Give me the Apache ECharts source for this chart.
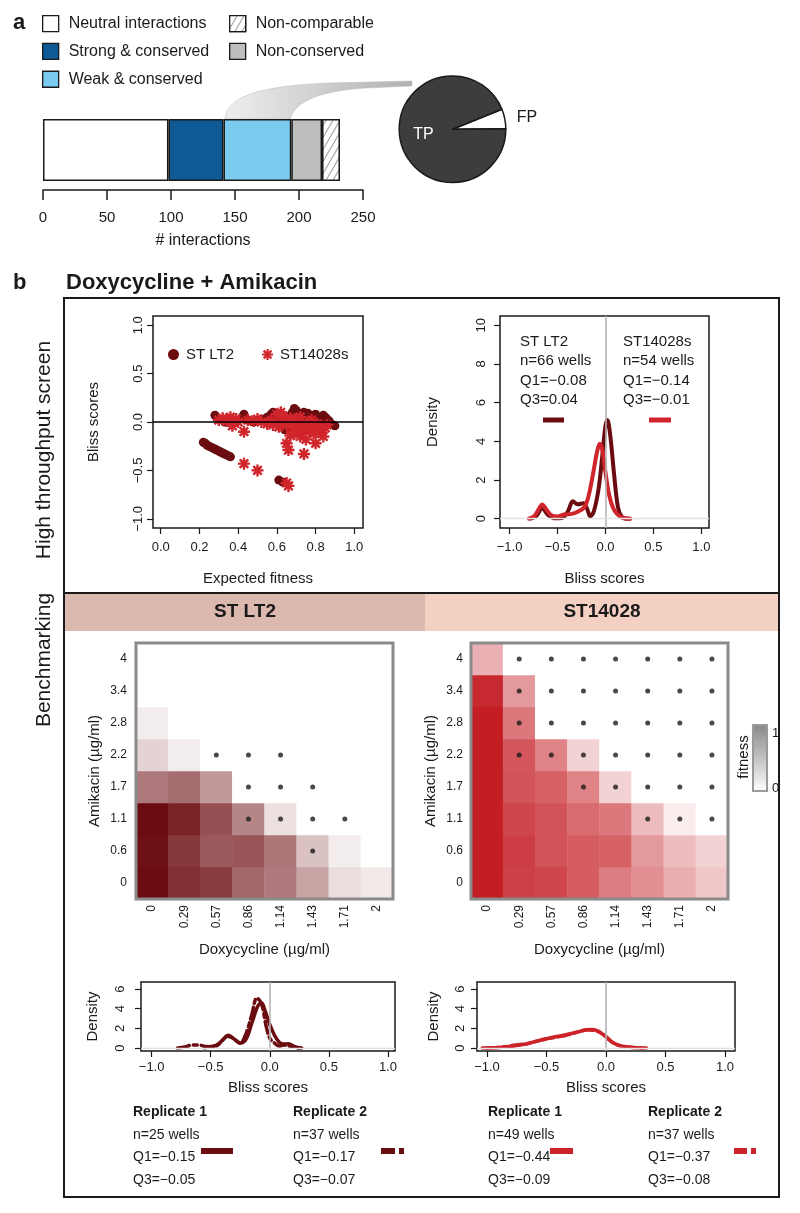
<!DOCTYPE html>
<html><head><meta charset="utf-8">
<script src="https://cdn.jsdelivr.net/npm/echarts@6.0.0/dist/echarts.min.js"></script>
<style>html,body{margin:0;padding:0;background:#fff}#c{width:800px;height:1213px}</style>
</head><body><div id="c"></div><script>
// ---------------- DATA ----------------
const barCategories = ['Neutral interactions','Strong & conserved','Weak & conserved','Non-conserved','Non-comparable'];
const barValues = [98, 43, 53, 24, 14];
const barTicks = [0, 50, 100, 150, 200, 250];
const pieLabels = ['FP', 'TP'];
const pieValues = [6, 94];

const scatterLT2 = [[0.22,-0.21],[0.23,-0.22],[0.24,-0.24],[0.25,-0.25],[0.26,-0.26],[0.27,-0.27],[0.28,-0.28],[0.29,-0.29],[0.30,-0.30],[0.31,-0.31],[0.32,-0.32],[0.33,-0.33],[0.34,-0.34],[0.35,-0.35],[0.36,-0.36],
 [0.61,-0.60],[0.63,-0.62],
 [0.28,0.07],[0.33,0.00],[0.38,0.02],[0.42,0.05],[0.43,0.08],[0.45,0.02],[0.48,0.00],[0.52,0.03],[0.55,0.05],[0.57,0.08],[0.58,0.10],[0.60,0.06],[0.61,0.02],[0.62,-0.02],[0.63,-0.04],[0.64,0.03],[0.65,-0.06],[0.66,0.04],[0.67,0.07],[0.68,0.10],[0.69,0.14],[0.70,0.12],[0.71,0.05],[0.72,0.02],[0.73,0.09],[0.74,0.10],[0.75,0.06],[0.76,0.03],[0.77,0.00],[0.78,0.07],[0.79,0.04],[0.80,0.02],[0.81,-0.01],[0.82,0.02],[0.83,0.00],[0.84,0.07],[0.85,0.05],[0.86,0.03],[0.87,0.01],[0.88,-0.02],[0.89,-0.03],[0.90,-0.04],[0.70,-0.03],[0.74,-0.05],[0.66,-0.02],[0.59,-0.01],[0.80,0.08],[0.76,0.09],[0.64,-0.08]];
const scatter14028 = [[0.30,0.02],[0.32,0.04],[0.34,0.01],[0.36,0.05],[0.37,-0.04],[0.40,0.00],[0.43,-0.10],[0.43,-0.43],[0.45,0.02],[0.50,0.03],[0.50,-0.50],[0.52,0.00],[0.55,-0.02],[0.57,0.02],[0.60,0.08],[0.62,0.10],[0.63,0.06],[0.64,0.01],[0.65,-0.03],[0.65,-0.22],[0.66,-0.29],[0.65,-0.63],[0.66,-0.66],[0.67,0.04],[0.68,-0.06],[0.69,-0.12],[0.70,0.02],[0.71,-0.09],[0.72,-0.15],[0.72,0.05],[0.73,-0.02],[0.74,-0.06],[0.74,-0.33],[0.75,-0.10],[0.75,-0.18],[0.76,-0.04],[0.77,0.00],[0.78,-0.08],[0.79,-0.12],[0.80,-0.22],[0.80,-0.05],[0.81,-0.02],[0.82,-0.10],[0.83,-0.08],[0.84,-0.15],[0.85,-0.06],[0.86,-0.03],[0.67,-0.14],[0.70,-0.04],[0.58,-0.03],[0.48,0.01],[0.39,0.03],[0.61,-0.05],[0.78,0.02]];
const scatterXTicks = [0, 0.2, 0.4, 0.6, 0.8, 1.0];
const scatterYTicks = [-1, -0.5, 0, 0.5, 1];

const densityLT2 = [[-0.78,0],[-0.72,0.15],[-0.66,0.55],[-0.6,0.2],[-0.52,0.02],[-0.45,0.05],[-0.39,0.4],[-0.34,0.9],[-0.29,0.75],[-0.23,0.8],[-0.19,0.5],[-0.16,0.12],[-0.12,0.4],[-0.07,1.6],[-0.03,3.4],[0.0,4.8],[0.02,5.1],[0.05,4.3],[0.09,2.3],[0.13,0.6],[0.17,0.1],[0.22,0.0],[0.25,0]];
const density14028 = [[-0.8,0],[-0.74,0.15],[-0.69,0.55],[-0.66,0.74],[-0.62,0.5],[-0.57,0.2],[-0.5,0.12],[-0.43,0.22],[-0.35,0.25],[-0.28,0.38],[-0.22,0.6],[-0.18,1.1],[-0.13,2.3],[-0.09,3.4],[-0.06,3.88],[-0.03,3.5],[0.0,2.4],[0.04,1.2],[0.08,0.55],[0.12,0.25],[0.18,0.05],[0.26,0]];
const densityXTicks = [-1, -0.5, 0, 0.5, 1];
const densityYTicks = [0, 2, 4, 6, 8, 10];
const topStatsLT2 = ['ST LT2', 'n=66 wells', 'Q1=\u22120.08', 'Q3=0.04'];
const topStats14028 = ['ST14028s', 'n=54 wells', 'Q1=\u22120.14', 'Q3=\u22120.01'];

const doxyLabels = ['0','0.29','0.57','0.86','1.14','1.43','1.71','2'];
const amiLabels = ['0','0.6','1.1','1.7','2.2','2.8','3.4','4'];
// rows: amikacin 0 -> 4 ; columns: doxycycline 0 -> 2
const fitnessLT2 = [
 [1.00,0.85,0.80,0.62,0.55,0.38,0.14,0.09],
 [0.98,0.82,0.68,0.70,0.56,0.25,0.08,0.00],
 [1.00,0.90,0.72,0.50,0.13,0.00,0.00,0.00],
 [0.55,0.60,0.42,0.00,0.00,0.00,0.00,0.00],
 [0.18,0.08,0.00,0.00,0.00,0.00,0.00,0.00],
 [0.08,0.00,0.00,0.00,0.00,0.00,0.00,0.00],
 [0.00,0.00,0.00,0.00,0.00,0.00,0.00,0.00],
 [0.00,0.00,0.00,0.00,0.00,0.00,0.00,0.00]];
const fitness14028 = [
 [1.00,0.85,0.82,0.72,0.58,0.50,0.36,0.25],
 [1.00,0.86,0.76,0.72,0.70,0.45,0.30,0.20],
 [1.00,0.82,0.76,0.66,0.60,0.30,0.08,0.00],
 [1.00,0.76,0.70,0.55,0.20,0.00,0.00,0.00],
 [1.00,0.75,0.55,0.20,0.00,0.00,0.00,0.00],
 [1.00,0.60,0.00,0.00,0.00,0.00,0.00,0.00],
 [0.95,0.45,0.00,0.00,0.00,0.00,0.00,0.00],
 [0.35,0.00,0.00,0.00,0.00,0.00,0.00,0.00]];
// [doxy index, amikacin index]
const dotsLT2 = [[2,4],[3,4],[4,4],[3,3],[4,3],[5,3],[3,2],[4,2],[5,2],[6,2],[5,1]];
const dots14028 = [[1,7],[2,7],[3,7],[4,7],[5,7],[6,7],[7,7],[1,6],[2,6],[3,6],[4,6],[5,6],[6,6],[7,6],[1,5],[2,5],[3,5],[4,5],[5,5],[6,5],[7,5],[1,4],[2,4],[3,4],[4,4],[5,4],[6,4],[7,4],[3,3],[4,3],[5,3],[6,3],[7,3],[5,2],[6,2],[7,2]];

const rep1LT2 = [[-0.55,0.02],[-0.5,0.15],[-0.45,0.3],[-0.4,0.8],[-0.35,1.3],[-0.3,0.9],[-0.25,0.5],[-0.2,0.9],[-0.15,2.6],[-0.1,4.3],[-0.07,4.6],[-0.04,3.8],[0.0,2.4],[0.04,1.3],[0.08,0.6],[0.12,0.4],[0.16,0.45],[0.2,0.2],[0.25,0.0]];
const rep2LT2 = [[-0.78,0],[-0.72,0.1],[-0.66,0.3],[-0.6,0.3],[-0.54,0.15],[-0.48,0.1],[-0.42,0.5],[-0.36,1.2],[-0.31,1.0],[-0.25,0.5],[-0.2,1.5],[-0.15,3.5],[-0.11,5.1],[-0.07,4.5],[-0.03,2.2],[0.0,1.0],[0.04,0.5],[0.08,0.2],[0.12,0.3],[0.17,0.2],[0.22,0.05],[0.27,0]];
const rep1S14 = [[-1.04,0],[-0.9,0.05],[-0.8,0.15],[-0.7,0.35],[-0.6,0.65],[-0.5,0.95],[-0.4,1.2],[-0.3,1.45],[-0.2,1.75],[-0.13,1.88],[-0.07,1.75],[0.0,1.15],[0.06,0.55],[0.12,0.25],[0.2,0.08],[0.34,0]];
const rep2S14 = [[-1.0,0],[-0.88,0.08],[-0.76,0.3],[-0.66,0.45],[-0.55,0.8],[-0.45,1.05],[-0.35,1.25],[-0.25,1.6],[-0.16,1.85],[-0.1,1.8],[-0.03,1.45],[0.03,0.8],[0.1,0.3],[0.2,0.08],[0.3,0]];
const benchXTicks = [-1, -0.5, 0, 0.5, 1];
const benchYTicks = [0, 2, 4, 6];
const repStatsLT2 = [['Replicate 1','n=25 wells','Q1=\u22120.15','Q3=\u22120.05'],['Replicate 2','n=37 wells','Q1=\u22120.17','Q3=\u22120.07']];
const repStats14028 = [['Replicate 1','n=49 wells','Q1=\u22120.44','Q3=\u22120.09'],['Replicate 2','n=37 wells','Q1=\u22120.37','Q3=\u22120.08']];

// ---------------- STYLE ----------------
const FONT = '"Liberation Sans", Arial, Helvetica, sans-serif';
const INK = '#1a1a1a';
const C_LT2 = '#6b0c10';
const C_S14 = '#d0252b';
const barColors = ['#ffffff', '#0f5a94', '#7bcaf0', '#bcbec0', '#ffffff'];
const hatch = {symbol:'rect', symbolSize:1, dashArrayX:[1,0], dashArrayY:[1,5], rotation:-Math.PI/3, color:'#9a9a9a', backgroundColor:'#ffffff'};
const ASTERISK = 'path://M0,4L10,4L10,6L0,6Z M4,0L6,0L6,10L4,10Z M0.75,2.17L2.17,0.75L9.25,7.83L7.83,9.25Z M2.17,9.25L0.75,7.83L7.83,0.75L9.25,2.17Z';

function fmt1(v){ return (v < 0 ? '\u2212' : '') + Math.abs(v).toFixed(1); }
function fmt0(v){ return (v < 0 ? '\u2212' : '') + Math.abs(v); }

function rX(gi, min, max, ticks, f, o) {
  return { type:'value', gridIndex:gi, min, max, position:'bottom',
    axisLine:{show:false, onZero:false},
    axisTick:{show:true, inside:false, length:6, customValues:ticks, lineStyle:{color:INK, width:1.2}},
    axisLabel:{customValues:ticks, formatter:f, fontSize:o.fs||13, color:INK, fontFamily:FONT, margin:o.margin},
    splitLine:{show:false},
    name:o.name, nameLocation:'middle', nameGap:o.nameGap,
    nameTextStyle:{fontSize:15, color:INK, fontFamily:FONT} };
}
function rY(gi, min, max, ticks, f, o) {
  return { type:'value', gridIndex:gi, min, max, position:'left',
    axisLine:{show:false, onZero:false},
    axisTick:{show:true, inside:false, length:6, customValues:ticks, lineStyle:{color:INK, width:1.2}},
    axisLabel:{customValues:ticks, formatter:f, rotate:90, fontSize:o.fs||13, color:INK, fontFamily:FONT, margin:o.margin},
    splitLine:{show:false},
    name:o.name, nameLocation:'middle', nameGap:o.nameGap,
    nameTextStyle:{fontSize:15, color:INK, fontFamily:FONT} };
}
function catX(gi, o) {
  return { type:'category', gridIndex:gi, data:doxyLabels, axisLine:{show:false, onZero:false}, axisTick:{show:false},
    axisLabel:{interval:0, rotate:90, fontSize:12, margin:6, color:INK, fontFamily:FONT}, splitLine:{show:false},
    name:'Doxycycline (\u00b5g/ml)', nameLocation:'middle', nameGap:o.nameGap, nameTextStyle:{fontSize:15, color:INK, fontFamily:FONT} };
}
function catY(gi, o) {
  return { type:'category', gridIndex:gi, data:amiLabels, axisLine:{show:false, onZero:false}, axisTick:{show:false},
    axisLabel:{interval:0, fontSize:12, margin:o.margin, color:INK, fontFamily:FONT}, splitLine:{show:false},
    name:'Amikacin (\u00b5g/ml)', nameLocation:'middle', nameGap:o.nameGap, nameTextStyle:{fontSize:15, color:INK, fontFamily:FONT} };
}
function rGrid(left, top, width, height, border, bw) {
  return {left, top, width, height, show:true, z:5, backgroundColor:'transparent', borderColor:border, borderWidth:bw, outerBoundsMode:'none', containLabel:false};
}

// ---------------- GRIDS / AXES ----------------
const grids = [
  {left:43, top:119, width:320, height:62, outerBoundsMode:'none', containLabel:false},
  rGrid(153, 316, 210, 212, INK, 1.5),
  rGrid(500, 316, 209, 212, INK, 1.5),
  rGrid(136, 643, 257, 256, '#8a8a8a', 3),
  rGrid(471, 643, 257, 256, '#8a8a8a', 3),
  rGrid(141, 982, 254, 69, INK, 1.5),
  rGrid(477, 982, 258, 69, INK, 1.5)
];
const xAxes = [
  { type:'value', gridIndex:0, min:0, max:250, interval:50, position:'bottom', offset:9,
    axisLine:{show:true, onZero:false, lineStyle:{color:INK, width:1.5}},
    axisTick:{show:true, length:10, lineStyle:{color:INK, width:1.5}},
    axisLabel:{customValues:barTicks, fontSize:15, margin:20, color:INK, fontFamily:FONT},
    splitLine:{show:false},
    name:'# interactions', nameLocation:'middle', nameGap:43, nameTextStyle:{fontSize:16, color:INK, fontFamily:FONT} },
  rX(1, -0.04, 1.045, scatterXTicks, fmt1, {margin:13, name:'Expected fitness', nameGap:43}),
  rX(2, -1.1, 1.08, densityXTicks, fmt1, {margin:13, name:'Bliss scores', nameGap:43}),
  catX(3, {nameGap:43}),
  catX(4, {nameGap:43}),
  rX(5, -1.09, 1.06, benchXTicks, fmt1, {margin:10, name:'Bliss scores', nameGap:29}),
  rX(6, -1.084, 1.084, benchXTicks, fmt1, {margin:10, name:'Bliss scores', nameGap:29})
];
const yAxes = [
  { type:'category', gridIndex:0, data:['interactions'], show:false },
  rY(1, -1.095, 1.095, scatterYTicks, fmt1, {margin:8, name:'Bliss scores', nameGap:52}),
  rY(2, -0.48, 10.48, densityYTicks, fmt0, {margin:12, name:'Density', nameGap:60}),
  catY(3, {margin:9, nameGap:34}),
  catY(4, {margin:8, nameGap:33}),
  rY(5, -0.3, 6.72, benchYTicks, fmt0, {margin:14, name:'Density', nameGap:41}),
  rY(6, -0.3, 6.72, benchYTicks, fmt0, {margin:10, name:'Density', nameGap:36})
];

// ---------------- SERIES ----------------
const series = [];
barCategories.forEach((name, i) => {
  series.push({ type:'bar', name, stack:'total', xAxisIndex:0, yAxisIndex:0, data:[barValues[i]], barWidth:62,
    itemStyle:{color:barColors[i], borderColor:INK, borderWidth:1.5, decal: i === 4 ? hatch : null},
    emphasis:{disabled:true} });
});
series.push({ type:'pie', name:'TP/FP', center:[452.5,129.2], radius:53.3, startAngle:22, clockwise:true, z:4,
  avoidLabelOverlap:false, emphasis:{disabled:true},
  itemStyle:{borderColor:INK, borderWidth:1.5},
  data: pieLabels.map((n, i) => ({ name:n, value:pieValues[i],
    itemStyle:{color: n === 'TP' ? '#3b3d3f' : '#ffffff'},
    label: n === 'TP' ? {show:true, position:'inside', color:'#ffffff', fontSize:16, fontFamily:FONT, formatter:'{b}'}
                      : {show:true, position:'outside', color:INK, fontSize:16, fontFamily:FONT, formatter:'{b}'},
    labelLine:{show:false, length:6, length2:1} })) });

const markBase = {silent:true, symbol:'none', label:{show:false}, animation:false};
// scatter zero line
series.push({ type:'line', xAxisIndex:1, yAxisIndex:1, data:[], markLine:Object.assign({}, markBase, {lineStyle:{color:'#000', width:1.5, type:'solid'}, data:[{yAxis:0}]}) });
series.push({ type:'scatter', name:'ST LT2', xAxisIndex:1, yAxisIndex:1, data:scatterLT2, symbol:'circle', symbolSize:9, itemStyle:{color:C_LT2, opacity:1}, emphasis:{disabled:true} });
series.push({ type:'scatter', name:'ST14028s', xAxisIndex:1, yAxisIndex:1, data:scatter14028, symbol:ASTERISK, symbolSize:12, itemStyle:{color:C_S14, opacity:1}, emphasis:{disabled:true} });

function refLines(xi) {
  return { type:'line', xAxisIndex:xi, yAxisIndex:xi, data:[], markLine:Object.assign({}, markBase, {
    data:[{xAxis:0, lineStyle:{color:'#b5b5b5', width:1.6, type:'solid'}}, {yAxis:0, lineStyle:{color:'#e2e2e2', width:1.3, type:'solid'}}] }) };
}
function curve(name, xi, data, color, width, dash) {
  return { type:'line', name, xAxisIndex:xi, yAxisIndex:xi, data, smooth:0.35, symbol:'none',
    lineStyle:{color, width, type: dash || 'solid', cap:'round', join:'round'}, emphasis:{disabled:true} };
}
series.push(refLines(2));
series.push(curve('LT2 density', 2, densityLT2, C_LT2, 4));
series.push(curve('14028 density', 2, density14028, C_S14, 4));

function heat(fit) {
  const d = [];
  fit.forEach((row, r) => row.forEach((v, c) => d.push([c, r, v])));
  return d;
}
const heatLIndex = series.length;
series.push({ type:'heatmap', xAxisIndex:3, yAxisIndex:3, data:heat(fitnessLT2), emphasis:{disabled:true}, itemStyle:{borderWidth:0} });
series.push({ type:'scatter', xAxisIndex:3, yAxisIndex:3, data:dotsLT2, symbolSize:5, itemStyle:{color:INK}, z:6, emphasis:{disabled:true} });
const heatRIndex = series.length;
series.push({ type:'heatmap', xAxisIndex:4, yAxisIndex:4, data:heat(fitness14028), emphasis:{disabled:true}, itemStyle:{borderWidth:0} });
series.push({ type:'scatter', xAxisIndex:4, yAxisIndex:4, data:dots14028, symbolSize:5, itemStyle:{color:INK}, z:6, emphasis:{disabled:true} });

const DASH = [12, 4, 4, 4];
series.push(refLines(5));
series.push(curve('LT2 rep1', 5, rep1LT2, C_LT2, 3.5));
series.push(curve('LT2 rep2', 5, rep2LT2, C_LT2, 3.5, DASH));
series.push(refLines(6));
series.push(curve('14028 rep1', 6, rep1S14, '#cc2229', 3.5));
series.push(curve('14028 rep2', 6, rep2S14, '#cc2229', 3.5, DASH));

// ---------------- GRAPHICS (text, frames) ----------------
function txt(x, y, text, o) {
  o = o || {};
  const al = o.align || 'left';
  return { type:'text', x, y, rotation:o.rot || 0, z:o.z || 20, silent:true,
    style:{ text, fill:o.fill || INK, font:(o.bold ? 'bold ' : '') + (o.size || 14) + 'px ' + FONT,
      align:al, textAlign:al, verticalAlign:'middle', textVerticalAlign:'middle' } };
}
function seg(x1, y1, x2, y2, color, w, dash) {
  return { type:'line', z:20, silent:true, shape:{x1, y1, x2, y2}, style:{stroke:color, lineWidth:w, lineDash:dash || null, lineCap:'butt'} };
}
function bez(p0, p1, p2, p3, n) {
  const pts = [];
  for (let i = 0; i <= n; i++) {
    const t = i / n, u = 1 - t;
    pts.push([u*u*u*p0[0] + 3*u*u*t*p1[0] + 3*u*t*t*p2[0] + t*t*t*p3[0],
              u*u*u*p0[1] + 3*u*u*t*p1[1] + 3*u*t*t*p2[1] + t*t*t*p3[1]]);
  }
  return pts;
}
const funnelPts = bez([225,119],[228,95],[262,86],[330,83],24)
  .concat([[412,81],[412,86]])
  .concat(bez([365,88],[322,91],[296,100],[290,119],24));

const G = [];
G.push(txt(13, 23, 'a', {bold:true, size:22}));
G.push({ type:'polygon', z:1, silent:true, shape:{points:funnelPts},
  style:{ fill:{type:'linear', x:0, y:0, x2:1, y2:0, colorStops:[{offset:0, color:'#eeeeee'}, {offset:1, color:'#b0b0b0'}]}, stroke:'#bdbdbd', lineWidth:0.6 } });
G.push(txt(13, 283, 'b', {bold:true, size:22}));
G.push(txt(66, 283, 'Doxycycline + Amikacin', {bold:true, size:22}));
G.push({ type:'rect', z:0, silent:true, shape:{x:65, y:594, width:360, height:37}, style:{fill:'#dcb9ae'} });
G.push({ type:'rect', z:0, silent:true, shape:{x:425, y:594, width:353, height:37}, style:{fill:'#f4d0c3'} });
G.push({ type:'rect', z:30, silent:true, shape:{x:64, y:298, width:715, height:899}, style:{fill:null, stroke:INK, lineWidth:2} });
G.push(seg(64, 593, 779, 593, INK, 2));
G.push(txt(245, 612, 'ST LT2', {bold:true, size:19, align:'center'}));
G.push(txt(602, 612, 'ST14028', {bold:true, size:19, align:'center'}));
G.push(txt(44, 450, 'High throughput screen', {size:21, align:'center', rot:Math.PI/2}));
G.push(txt(44, 660, 'Benchmarking', {size:21, align:'center', rot:Math.PI/2}));
// density stats (top)
topStatsLT2.forEach((s, i) => G.push(txt(520, 342 + i * 19.2, s, {size:15})));
topStats14028.forEach((s, i) => G.push(txt(623, 342 + i * 19.2, s, {size:15})));
G.push(seg(543, 420, 564, 420, C_LT2, 5));
G.push(seg(649, 420, 671, 420, C_S14, 5));
// colour bar
G.push({ type:'rect', z:20, silent:true, shape:{x:753, y:725, width:14, height:66},
  style:{ fill:{type:'linear', x:0, y:0, x2:0, y2:1, colorStops:[{offset:0, color:'#878787'}, {offset:1, color:'#ffffff'}]}, stroke:'#9a9a9a', lineWidth:2 } });
G.push(txt(772, 733, '1', {size:13}));
G.push(txt(772, 788, '0', {size:13}));
G.push(txt(744, 757, 'fitness', {size:15, align:'center', rot:Math.PI/2}));
// replicate legends
function repBlock(x, stats, color, dash, bx1, bx2) {
  stats.forEach((s, i) => G.push(txt(x, 1112 + i * 22.7, s, {size:14, bold:i === 0})));
  G.push(seg(bx1, 1151, bx2, 1151, color, 6, dash));
}
repBlock(133, repStatsLT2[0], C_LT2, null, 201, 233);
repBlock(293, repStatsLT2[1], C_LT2, [14,4,5,200], 381, 404);
repBlock(488, repStats14028[0], '#cc2229', null, 550, 573);
repBlock(648, repStats14028[1], '#cc2229', [13,4,5,200], 734, 756);

// ---------------- OPTION ----------------
const option = {
  backgroundColor:'#ffffff',
  animation:false,
  textStyle:{fontFamily:FONT},
  grid:grids, xAxis:xAxes, yAxis:yAxes,
  visualMap:[
    {type:'continuous', show:false, seriesIndex:heatLIndex, dimension:2, min:0, max:1, inRange:{color:['#ffffff', C_LT2]}},
    {type:'continuous', show:false, seriesIndex:heatRIndex, dimension:2, min:0, max:1, inRange:{color:['#ffffff', '#c41e25']}}
  ],
  legend:[
    { left:37, top:10, orient:'vertical', itemWidth:16, itemHeight:16, itemGap:10.5, icon:'rect', selectedMode:false,
      data:['Neutral interactions','Strong & conserved','Weak & conserved'],
      itemStyle:{borderColor:INK, borderWidth:1.3},
      textStyle:{fontSize:16, color:INK, fontFamily:FONT, padding:[0,0,0,5]} },
    { left:224, top:10, orient:'vertical', itemWidth:16, itemHeight:16, itemGap:10.5, icon:'rect', selectedMode:false,
      data:['Non-comparable','Non-conserved'],
      itemStyle:{borderColor:INK, borderWidth:1.3},
      textStyle:{fontSize:16, color:INK, fontFamily:FONT, padding:[0,0,0,5]} },
    { left:163, top:342, orient:'horizontal', itemWidth:11, itemHeight:11, itemGap:28, selectedMode:false,
      data:['ST LT2','ST14028s'],
      textStyle:{fontSize:15, color:INK, fontFamily:FONT, padding:[0,0,0,2]} }
  ],
  graphic:{elements:G},
  series
};
const chart = echarts.init(document.getElementById('c'), null, {renderer:'canvas'});
chart.setOption(option);
</script></body></html>
